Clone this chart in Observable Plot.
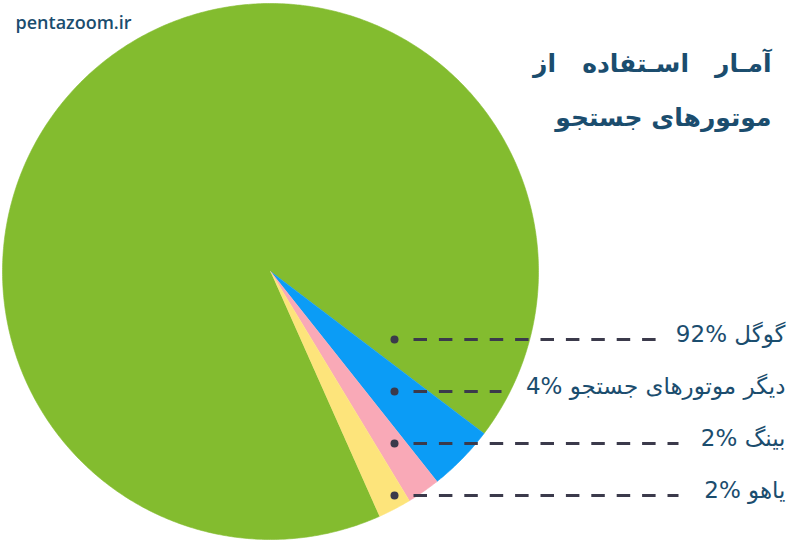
<!DOCTYPE html>
<html><head><meta charset="utf-8">
<script src="https://cdn.jsdelivr.net/npm/d3@7"></script>
<script src="https://cdn.jsdelivr.net/npm/@observablehq/plot@0.6"></script>
<style>html,body{margin:0;padding:0;background:#fff;overflow:hidden}</style>
</head><body><div id="chart"></div>
<script>
// ---- data ----
const engines = ["گوگل", "دیگر موتورهای جستجو", "بینگ", "یاهو"];
const shares = [92, 4, 2, 2];
const sliceColors = ["#83bc2f", "#0b9cf6", "#f9a9b7", "#fde47b"];
const titleLines = ["آمـار\u00a0\u00a0\u00a0اسـتفاده\u00a0\u00a0\u00a0از", "موتورهای جستجو"];
const site = "pentazoom.ir";

// ---- layout ----
const W = 800, H = 541;
const cx = 270, cy = 271, R = 268;
const startDeg = 156;
const rowTop = 339, rowGap = 52;
const dotX = 394, dashStart = 413, dashEnds = [657, 501, 678, 678], textX = 785;
const ink = "#3b3a4b", textColor = "#1b4d6e";

const arcs = d3.pie().sort(null)
  .startAngle(startDeg * Math.PI / 180)
  .endAngle(startDeg * Math.PI / 180 + 2 * Math.PI)(shares);

const slicePts = [];
arcs.forEach((a, i) => {
  const name = engines[i];
  slicePts.push({name, x: cx, y: cy});
  const n = Math.max(2, Math.ceil((a.endAngle - a.startAngle) / (Math.PI / 360)));
  for (let k = 0; k <= n; k++) {
    const t = a.startAngle + (a.endAngle - a.startAngle) * k / n;
    slicePts.push({name, x: cx + R * Math.sin(t), y: cy - R * Math.cos(t)});
  }
});

const rows = engines.map((name, i) => ({
  name,
  label: `${shares[i]}% ${name}`,
  y: rowTop + rowGap * i,
  end: dashEnds[i]
}));

const chart = Plot.plot({
  width: W, height: H,
  margin: 0,
  x: {domain: [0, W], range: [0, W], axis: null},
  y: {domain: [0, H], range: [0, H], axis: null},
  color: {domain: engines, range: sliceColors},
  style: {background: "#fff"},
  marks: [
    Plot.line(slicePts, {x: "x", y: "y", z: "name", fill: "name", stroke: "name", strokeWidth: 0.6}),
    Plot.link(rows, {x1: d => dashStart, x2: d => d.end, y1: d => d.y, y2: d => d.y,
      stroke: ink, strokeWidth: 3, strokeDasharray: "13.5,11.9"}),
    Plot.dot(rows, {x: d => dotX, y: d => d.y, r: 4, fill: ink, stroke: null}),
    Plot.text(rows, {x: d => textX, y: d => d.y - 5, text: "label", textAnchor: "end",
      fontSize: 23, fill: textColor, fontFamily: "DejaVu Sans"}),
    Plot.text(titleLines, {x: d => 771, y: (d, i) => 63 + 54 * i, text: d => d, textAnchor: "end",
      fontSize: 25, fontWeight: "bold", fill: textColor, fontFamily: "DejaVu Sans"}),
    Plot.text([site], {x: d => 15, y: d => 23, text: d => d, textAnchor: "start",
      fontSize: 18, fontWeight: 600, fill: textColor, fontFamily: "Open Sans"})
  ]
});
document.getElementById("chart").appendChild(chart);
</script>
</body></html>
